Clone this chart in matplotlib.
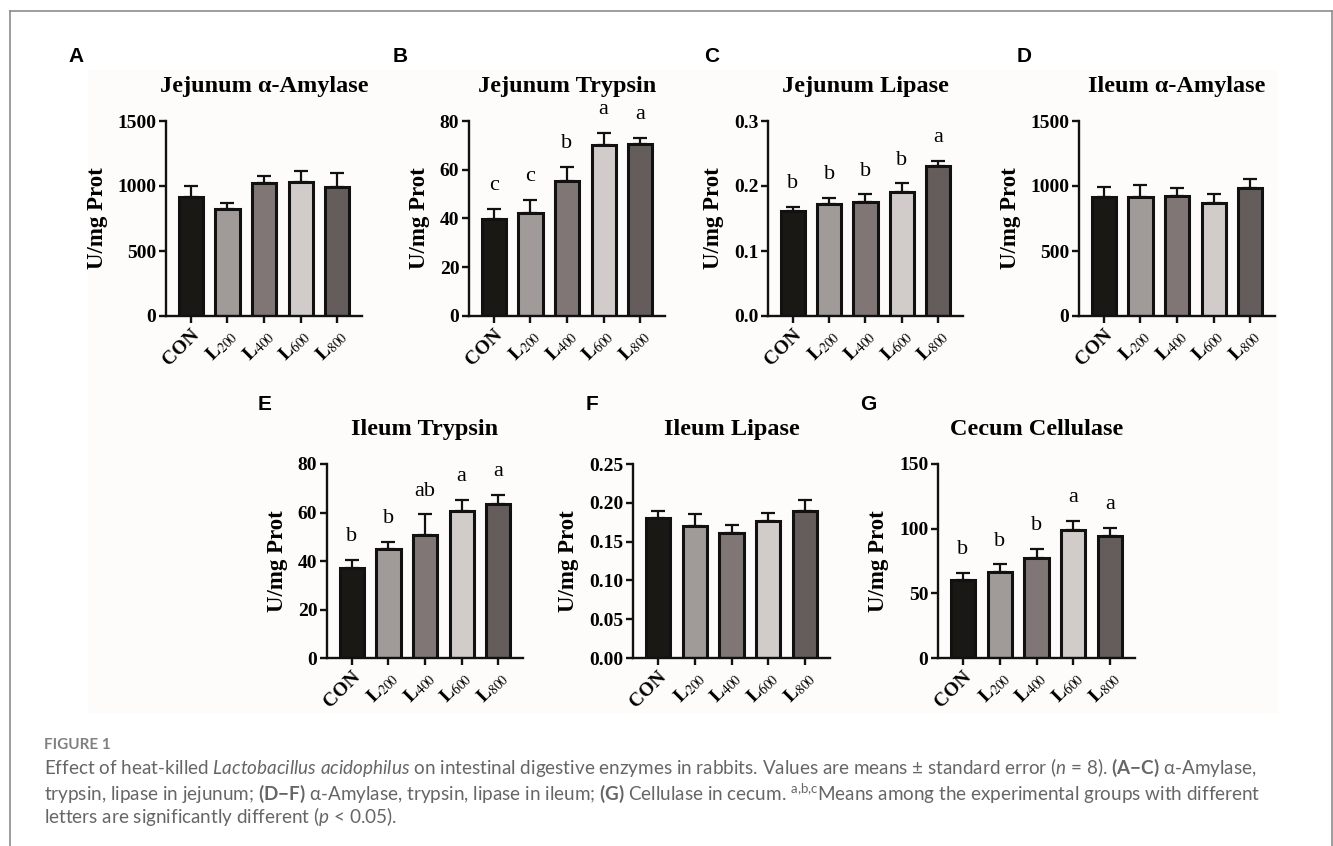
import numpy as np
import matplotlib
matplotlib.use("Agg")
import matplotlib.pyplot as plt
from matplotlib.lines import Line2D
from matplotlib.patches import Rectangle

# =========================
# DATA (means and standard errors, n = 8)
# =========================
groups = ["CON", "L200", "L400", "L600", "L800"]
group_labels = ["CON"] + [r"$\mathbf{L}_{\mathrm{%s}}$" % g[1:] for g in groups[1:]]
bar_colors = ["#1a1814", "#a09a99", "#807676", "#d1ccc9", "#655d5b"]

jej_amylase = [913, 820, 1026, 1031, 995]
jej_amylase_se = [90, 47, 51, 84, 102]
jej_trypsin = [39.7, 42.4, 55.5, 70.0, 70.4]
jej_trypsin_se = [4.1, 5.1, 5.5, 5.2, 2.8]
jej_lipase = [0.162, 0.172, 0.176, 0.190, 0.230]
jej_lipase_se = [0.006, 0.010, 0.011, 0.014, 0.008]
ile_amylase = [918, 913, 923, 867, 987]
ile_amylase_se = [72, 92, 59, 74, 69]
ile_trypsin = [37.0, 45.1, 50.8, 60.6, 63.7]
ile_trypsin_se = [3.6, 2.6, 8.4, 4.4, 3.5]
ile_lipase = [0.181, 0.170, 0.161, 0.177, 0.189]
ile_lipase_se = [0.009, 0.015, 0.011, 0.010, 0.014]
cec_cellulase = [60.5, 66.6, 77.7, 98.8, 94.4]
cec_cellulase_se = [5.4, 5.7, 6.7, 6.9, 6.2]

letters_jej_trypsin = ["c", "c", "b", "a", "a"]
letters_jej_lipase = ["b", "b", "b", "b", "a"]
letters_ile_trypsin = ["b", "b", "ab", "a", "a"]
letters_cec_cellulase = ["b", "b", "b", "a", "a"]

# =========================
# FIGURE SETUP
# =========================
W, H = 1333, 846
plt.rcParams["mathtext.fontset"] = "custom"
plt.rcParams["mathtext.rm"] = "Lato"
plt.rcParams["mathtext.it"] = "Lato:italic"
plt.rcParams["mathtext.bf"] = "Lato:bold"

fig = plt.figure(figsize=(W / 100, H / 100), dpi=100)
fig.patch.set_facecolor("white")

# light backdrop behind the panels
fig.patches.append(Rectangle((88 / W, 1 - 713 / H), (1278 - 88) / W, (713 - 70) / H,
                             transform=fig.transFigure, facecolor="#fdfcfa",
                             edgecolor="none", zorder=-5))

# frame around the figure box (left, top, right)
for xs, ys in [([10, 10], [11, H]), ([10, 1332], [11, 11]), ([1332, 1332], [11, H])]:
    fig.lines.append(Line2D([x / W for x in xs], [1 - y / H for y in ys],
                            transform=fig.transFigure, color="#8c8c8c", lw=1.2, zorder=-4))


def px_box(l, r, t, b):
    return [l / W, 1 - b / H, (r - l) / W, (b - t) / H]


serif = "Liberation Serif"


def bar_panel(box, title, means, se, ymax, yticks, fmt, letters=None):
    ax = fig.add_axes(px_box(*box))
    ax.set_facecolor("none")
    ax.set_zorder(2)
    x = np.arange(len(means))
    ax.errorbar(x, means, yerr=[np.zeros(len(se)), se], fmt="none", ecolor="#111111",
                elinewidth=1.6, capsize=5, capthick=1.6, zorder=1)
    ax.bar(x, means, width=0.66, color=bar_colors, edgecolor="#111111", linewidth=2.2, zorder=2)
    ax.set_xlim(-0.68, 4.68)
    ax.set_ylim(0, ymax)
    ax.set_yticks(yticks)
    ax.set_yticklabels([fmt.format(v) for v in yticks], fontfamily=serif,
                       fontweight="bold", fontsize=14)
    ax.set_xticks(x)
    ax.set_xticklabels(group_labels, rotation=45, ha="right", va="top",
                       rotation_mode="anchor", fontfamily=serif, fontweight="bold",
                       fontsize=14, math_fontfamily="stix")
    for s in ["top", "right"]:
        ax.spines[s].set_visible(False)
    for s in ["left", "bottom"]:
        ax.spines[s].set_linewidth(1.7)
        ax.spines[s].set_color("#111111")
    ax.tick_params(axis="both", length=5, width=1.7, color="#111111", pad=2)
    ax.set_ylabel("U/mg Prot", fontfamily=serif, fontweight="bold", fontsize=16.5, labelpad=7)
    ax.set_title(title, fontfamily=serif, fontweight="bold", fontsize=17.5, pad=21)
    if letters:
        for xi, m, e, lt in zip(x, means, se, letters):
            ax.annotate(lt, (xi, m + e), xytext=(0, 10), textcoords="offset points",
                        ha="center", va="bottom", fontfamily=serif, fontsize=16,
                        annotation_clip=False)
    return ax


bar_panel((166, 362, 121, 316), "Jejunum α-Amylase", jej_amylase, jej_amylase_se,
          1500, [0, 500, 1000, 1500], "{:.0f}")
bar_panel((469, 665, 121, 316), "Jejunum Trypsin", jej_trypsin, jej_trypsin_se,
          80, [0, 20, 40, 60, 80], "{:.0f}", letters_jej_trypsin)
bar_panel((768, 963, 121, 316), "Jejunum Lipase", jej_lipase, jej_lipase_se,
          0.3, [0.0, 0.1, 0.2, 0.3], "{:.1f}", letters_jej_lipase)
bar_panel((1079, 1275, 121, 316), "Ileum α-Amylase", ile_amylase, ile_amylase_se,
          1500, [0, 500, 1000, 1500], "{:.0f}")
bar_panel((327, 523, 464, 658), "Ileum Trypsin", ile_trypsin, ile_trypsin_se,
          80, [0, 20, 40, 60, 80], "{:.0f}", letters_ile_trypsin)
bar_panel((633, 830, 464, 658), "Ileum Lipase", ile_lipase, ile_lipase_se,
          0.25, [0.0, 0.05, 0.10, 0.15, 0.20, 0.25], "{:.2f}")
bar_panel((938, 1135, 464, 658), "Cecum Cellulase", cec_cellulase, cec_cellulase_se,
          150, [0, 50, 100, 150], "{:.0f}", letters_cec_cellulase)

# panel letters
for lab, px, py in [("A", 76, 57), ("B", 400, 57), ("C", 712, 57), ("D", 1024, 57),
                    ("E", 265, 404), ("F", 592, 404), ("G", 868, 404)]:
    fig.text(px / W, 1 - py / H, lab, fontfamily="Liberation Sans", fontweight="bold",
             fontsize=15, ha="center", va="center")

# =========================
# CAPTION
# =========================
cap_font = ["Lato", "DejaVu Sans"]
cap_color = "#666666"
fig.text(44 / W, 1 - 745 / H, "FIGURE 1", fontfamily=cap_font, fontweight="bold",
         fontsize=11, color="#808080", ha="left", va="center")
caption = [
    r"Effect of heat-killed $\mathit{Lactobacillus\ acidophilus}$ on intestinal digestive "
    r"enzymes in rabbits. Values are means ± standard error ($\mathit{n}$ = 8). "
    r"$\mathbf{(A{-}C)}$ α-Amylase,",
    r"trypsin, lipase in jejunum; $\mathbf{(D{-}F)}$ α-Amylase, trypsin, lipase in ileum; "
    r"$\mathbf{(G)}$ Cellulase in cecum. $^{\mathrm{a{,}b{,}c}}$Means among the experimental "
    r"groups with different",
    r"letters are significantly different ($\mathit{p}$ < 0.05).",
]
for line, py in zip(caption, [768, 793, 816]):
    fig.text(44 / W, 1 - py / H, line, fontfamily=cap_font, fontsize=13.6,
             color=cap_color, ha="left", va="center")

plt.savefig("out.png", dpi=100)
